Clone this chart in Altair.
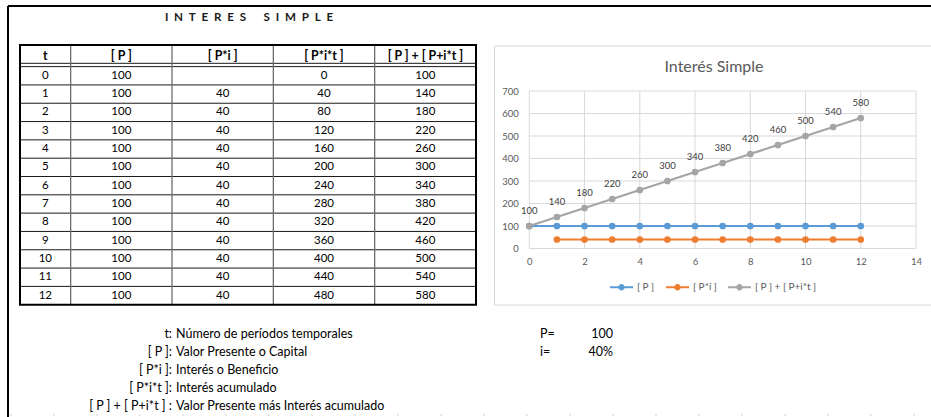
import altair as alt
import pandas as pd

# Simple interest worksheet: capital P = 100, rate i = 40 %
periods = [0, 1, 2, 3, 4, 5, 6, 7, 8, 9, 10, 11, 12]
capital = [100, 100, 100, 100, 100, 100, 100, 100, 100, 100, 100, 100, 100]
interest = [None, 40, 40, 40, 40, 40, 40, 40, 40, 40, 40, 40, 40]
accumulated = [0, 40, 80, 120, 160, 200, 240, 280, 320, 360, 400, 440, 480]
total = [100, 140, 180, 220, 260, 300, 340, 380, 420, 460, 500, 540, 580]

column_headers = ["t", "[ P ]", "[ P*i ]", "[ P*i*t ]", "[ P ] + [ P+i*t ]"]
series_names = ["[ P ]", "[ P*i ]", "[ P ] + [ P+i*t ]"]
series_colors = ["#5B9BD5", "#ED7D31", "#A5A5A5"]

x_ticks = [0, 2, 4, 6, 8, 10, 12, 14]
y_ticks = [0, 100, 200, 300, 400, 500, 600, 700]

note_terms = ["t:", "[ P ]:", "[ P*i ]:", "[ P*i*t ]:", "[ P ] + [ P+i*t ] :"]
note_texts = [
    "Número de períodos temporales",
    "Valor Presente o Capital",
    "Interés o Beneficio",
    "Interés acumulado",
    "Valor Presente más Interés acumulado",
]
param_names = ["P=", "i="]
param_values = ["100", "40%"]

sheet_title = "I\u2002N\u2002T\u2002E\u2002R\u2002E\u2002S\u2002\u2002\u2002S\u2002I\u2002M\u2002P\u2002L\u2002E"
chart_title = "Interés Simple"

# ---- layout / style ----
W, H = 931, 417
FONT = "Lato"
GRID = "#d9d9d9"
AXIS_TXT = "#595959"

COL_UNITS = [1, 2, 2, 2, 2]
HEADER_UNITS = 1.18
col_edges = [0]
for u in COL_UNITS:
    col_edges.append(col_edges[-1] + u)
table_rows = list(zip(periods, capital, interest, accumulated, total))
total_units = HEADER_UNITS + len(table_rows)

tx = alt.Scale(domain=[0, col_edges[-1]], range=[20, 476], nice=False, zero=False)
ty = alt.Scale(domain=[0, total_units], range=[45, 304.7], nice=False, zero=False)


def fmt(v):
    return "" if v is None else str(v)


cells = []
for c, head in enumerate(column_headers):
    cells.append({"cx": (col_edges[c] + col_edges[c + 1]) / 2,
                  "cy": HEADER_UNITS / 2, "label": head, "kind": "head"})
for r, row in enumerate(table_rows):
    for c, v in enumerate(row):
        cells.append({"cx": (col_edges[c] + col_edges[c + 1]) / 2,
                      "cy": HEADER_UNITS + r + 0.5, "label": fmt(v), "kind": "body"})
cells_df = pd.DataFrame(cells)

h_lines = pd.DataFrame({
    "y": [HEADER_UNITS - 0.18, HEADER_UNITS] + [HEADER_UNITS + k for k in range(1, len(table_rows))],
    "x0": 0, "x1": col_edges[-1]})
v_lines = pd.DataFrame({"x": col_edges[1:-1], "y0": 0, "y1": total_units})
frame_df = pd.DataFrame({"x0": [0], "x1": [col_edges[-1]], "y0": [0], "y1": [total_units]})

table_h = alt.Chart(h_lines).mark_rule(color="#1a1a1a", strokeWidth=1).encode(
    x=alt.X("x0:Q", scale=tx, axis=None), x2="x1:Q",
    y=alt.Y("y:Q", scale=ty, axis=None))
table_v = alt.Chart(v_lines).mark_rule(color="#6e6e6e", strokeWidth=1.3).encode(
    x=alt.X("x:Q", scale=tx, axis=None),
    y=alt.Y("y0:Q", scale=ty, axis=None), y2="y1:Q")
table_frame = alt.Chart(frame_df).mark_rect(fillOpacity=0, stroke="#000000", strokeWidth=2).encode(
    x=alt.X("x0:Q", scale=tx, axis=None), x2="x1:Q",
    y=alt.Y("y0:Q", scale=ty, axis=None), y2="y1:Q")
head_text = alt.Chart(cells_df).transform_filter(alt.datum.kind == "head").mark_text(
    font=FONT, fontSize=12.3, fontWeight="bold", color="#000000", baseline="middle").encode(
    x=alt.X("cx:Q", scale=tx, axis=None), y=alt.Y("cy:Q", scale=ty, axis=None), text="label:N")
body_text = alt.Chart(cells_df).transform_filter(alt.datum.kind == "body").mark_text(
    font=FONT, fontSize=11.5, color="#000000", baseline="middle").encode(
    x=alt.X("cx:Q", scale=tx, axis=None), y=alt.Y("cy:Q", scale=ty, axis=None), text="label:N")
table = alt.layer(table_h, table_v, table_frame, head_text, body_text)

# ---- line chart ----
records = []
for name, values in zip(series_names, [capital, interest, total]):
    for t, v in zip(periods, values):
        if v is not None:
            records.append({"t": t, "value": v, "series": name})
series_df = pd.DataFrame(records)

xs = alt.Scale(domain=[0, 14], range=[529.3, 916], nice=False, zero=False)
ys = alt.Scale(domain=[0, 700], range=[248.5, 91], nice=False, zero=False)
color_scale = alt.Scale(domain=series_names, range=series_colors)

x_axis = alt.Axis(values=x_ticks, orient="bottom", offset=-(H - 248.5), grid=False,
                  domain=False, ticks=False, title=None,
                  labelFont=FONT, labelFontSize=9.5, labelColor=AXIS_TXT, labelPadding=8,
                  labelFlush=False)
y_axis = alt.Axis(values=y_ticks, orient="left", offset=-529.3, grid=False,
                  domain=False, ticks=False, title=None,
                  labelFont=FONT, labelFontSize=9.5, labelColor=AXIS_TXT, labelPadding=11,
                  labelFlush=False)

legend_symbol = ("M-1,-0.09H1V0.09H-1Z "
                 "M0.28,0A0.28,0.28 0 1,1 -0.28,0A0.28,0.28 0 1,1 0.28,0Z")
series_legend = alt.Legend(
    orient="none", legendX=610, legendY=275.5, direction="horizontal", title=None,
    symbolType=legend_symbol, symbolSize=529, symbolStrokeWidth=0, symbolOpacity=1,
    labelFont=FONT, labelFontSize=10, labelColor=AXIS_TXT, labelOffset=4,
    columnPadding=11, padding=0)

# gridlines drawn from the tick lists through the plot scales
vgrid_df = pd.DataFrame({"gx": x_ticks, "y0": y_ticks[0], "y1": y_ticks[-1]})
hgrid_df = pd.DataFrame({"gy": y_ticks, "x0": x_ticks[0], "x1": x_ticks[-1]})
vgrid = alt.Chart(vgrid_df).mark_rule(color=GRID, strokeWidth=1).encode(
    x=alt.X("gx:Q", scale=xs, axis=x_axis),
    y=alt.Y("y0:Q", scale=ys, axis=y_axis), y2="y1:Q")
hgrid = alt.Chart(hgrid_df).mark_rule(color=GRID, strokeWidth=1).encode(
    x=alt.X("x0:Q", scale=xs, axis=x_axis), x2="x1:Q",
    y=alt.Y("gy:Q", scale=ys, axis=y_axis))

base = alt.Chart(series_df).encode(
    x=alt.X("t:Q", scale=xs, axis=x_axis),
    y=alt.Y("value:Q", scale=ys, axis=y_axis))

lines = base.mark_line(strokeWidth=2.2).encode(
    color=alt.Color("series:N", scale=color_scale, legend=series_legend))
points = base.mark_point(filled=True, size=45, opacity=1).encode(
    color=alt.Color("series:N", scale=color_scale, legend=series_legend))
labels = base.transform_filter(alt.datum.series == series_names[2]).mark_text(
    font=FONT, fontSize=9.5, color="#404040", dy=-15, baseline="middle").encode(
    text="value:Q")
plot = alt.layer(vgrid, hgrid, lines, points, labels)

# ---- notes under the table ----
notes_df = pd.DataFrame({"idx": list(range(len(note_terms))), "term": note_terms, "text": note_texts})
params_df = pd.DataFrame({"idx": list(range(len(param_names))), "name": param_names, "val": param_values})
ny = alt.Scale(domain=[0, 4], range=[334, 406], nice=False, zero=False)
NOTE_SIZE = 12.5

note_term_layer = alt.Chart(notes_df).mark_text(
    font=FONT, fontSize=NOTE_SIZE, color="#000000", align="right", baseline="middle").encode(
    x=alt.value(172), y=alt.Y("idx:Q", scale=ny, axis=None), text="term:N")
note_text_layer = alt.Chart(notes_df).mark_text(
    font=FONT, fontSize=NOTE_SIZE, color="#000000", align="left", baseline="middle").encode(
    x=alt.value(176), y=alt.Y("idx:Q", scale=ny, axis=None), text="text:N")
param_name_layer = alt.Chart(params_df).mark_text(
    font=FONT, fontSize=NOTE_SIZE, color="#000000", align="left", baseline="middle").encode(
    x=alt.value(540), y=alt.Y("idx:Q", scale=ny, axis=None), text="name:N")
param_val_layer = alt.Chart(params_df).mark_text(
    font=FONT, fontSize=NOTE_SIZE, color="#000000", align="right", baseline="middle").encode(
    x=alt.value(613), y=alt.Y("idx:Q", scale=ny, axis=None), text="val:N")
notes = alt.layer(note_term_layer, note_text_layer, param_name_layer, param_val_layer)

# ---- sheet decorations ----
frame_top = alt.Chart().mark_rule(color="#000000", strokeWidth=2).encode(
    x=alt.value(8), x2=alt.value(W), y=alt.value(6))
frame_left = alt.Chart().mark_rule(color="#000000", strokeWidth=2).encode(
    x=alt.value(8), y=alt.value(6), y2=alt.value(H))
page_break = alt.Chart().mark_rule(color="#d0d0d0", strokeWidth=1, strokeDash=[2, 41]).encode(
    x=alt.value(10), x2=alt.value(W), y=alt.value(415))
sheet_title_mark = alt.Chart().mark_text(
    text=sheet_title, font=FONT, fontSize=11.6, fontWeight="bold", color="#1a1a1a",
    baseline="middle").encode(x=alt.value(249), y=alt.value(18))
chart_box = alt.Chart().mark_rect(fillOpacity=0, stroke=GRID, strokeWidth=1).encode(
    x=alt.value(494.5), x2=alt.value(W + 20), y=alt.value(46), y2=alt.value(305))
chart_title_mark = alt.Chart().mark_text(
    text=chart_title, font=FONT, fontSize=16, color=AXIS_TXT, baseline="middle").encode(
    x=alt.value(714), y=alt.value(67))

chart = alt.layer(
    frame_top, frame_left, page_break, sheet_title_mark, chart_box, chart_title_mark,
    table, plot, notes,
).resolve_scale(x="independent", y="independent").properties(
    width=W, height=H, autosize=alt.AutoSizeParams(type="none"), padding=0,
    background="#ffffff",
).configure_view(strokeWidth=0)

chart.save("out.html", embed_options={"renderer": "svg", "actions": False})
